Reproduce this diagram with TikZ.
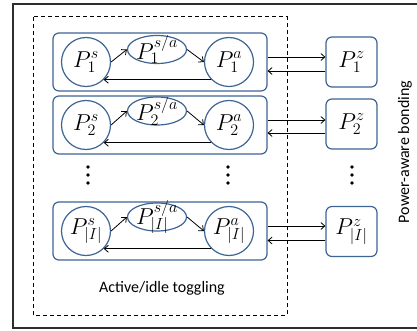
\RequirePackage{fix-cm}
\documentclass[tikz,border=0pt]{standalone}
\usepackage{fontspec}
\newfontfamily\labelfont{Carlito}
\usetikzlibrary{arrows.meta,shapes.geometric}
\definecolor{nodeblue}{RGB}{62,100,148}
\definecolor{framegray}{RGB}{45,45,45}
\begin{document}
\begin{tikzpicture}[x=1pt,y=-1pt,
  mathfont/.style={font=\fontsize{23}{26}\selectfont},
  rowbox/.style={draw=nodeblue, line width=1.2pt, rounded corners=6pt, minimum width=214pt, minimum height=58pt, inner sep=0pt},
  statec/.style={circle, draw=nodeblue, line width=1.2pt, minimum size=49pt, inner sep=0pt, mathfont},
  midell/.style={ellipse, draw=nodeblue, line width=1.2pt, minimum width=59pt, minimum height=28pt, inner sep=0pt},
  zbox/.style={draw=nodeblue, line width=1.2pt, rounded corners=6pt, minimum width=51pt, minimum height=50pt, inner sep=0pt, mathfont},
  arr/.style={-{Straight Barb[length=4pt,width=7pt]}, line width=0.8pt},
  plain/.style={font=\labelfont\fontsize{16}{19}\selectfont}]
\clip (0,0) rectangle (417,331);
% outer frame (right side runs off the picture)
\draw[framegray, line width=1.2pt] (13,4) rectangle (432,328);
% dashed frame
\draw[black, line width=1pt, dash pattern=on 4pt off 3pt] (33,17) rectangle (287,315);
% rows
\foreach \i/\yc/\ye/\yz/\sub in {1/62/49.5/62/1, 2/125/111/124/2, 3/231/217/231.5/|I|}{
  \node[rowbox] (b\i) at (160,\yc) {};
  \node[statec] (s\i) at (86,\yc) {$P^{s}_{\sub}$};
  \node[midell, label={[mathfont]center:$P^{s/a}_{\sub}$}] (e\i) at (157,\ye) {};
  \node[statec] (a\i) at (229,\yc) {$P^{a}_{\sub}$};
  \node[zbox] (z\i) at (351.5,\yz) {$P^{z}_{\sub}$};
  \coordinate (bu\i) at ([yshift=5pt]b\i.east);
  \coordinate (zl\i) at ([yshift=-9pt]z\i.west);
  \draw[arr] (s\i.east) -- (e\i.west);
  \draw[arr] (e\i.east) -- (a\i.west);
  \draw[arr] (a\i.225) -- (s\i.315 |- a\i.225);
  \draw[arr] (bu\i) -- (z\i.west |- bu\i);
  \draw[arr] (zl\i) -- (b\i.east |- zl\i);
}
% vertical ellipses
\foreach \x in {88,228,352}{
  \foreach \y in {167,175,183}{
    \fill (\x,\y) circle (1.8pt);
  }
}
\node[plain] (tog) at (162,288) {Active/idle toggling};
\node[plain, rotate=90] (bond) at (405,152) {Power-aware bonding};
\end{tikzpicture}
\end{document}
